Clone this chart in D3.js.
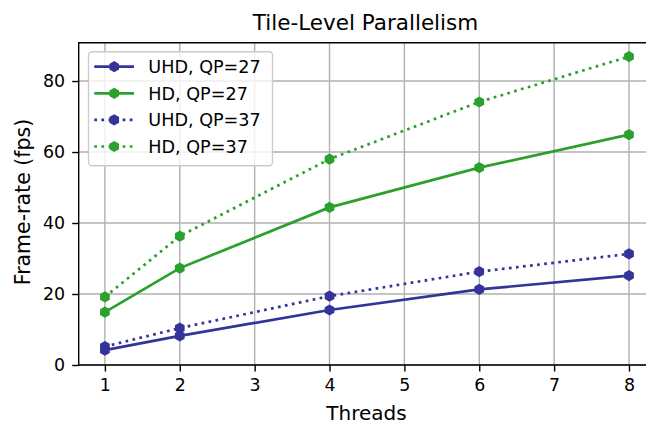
<!DOCTYPE html>
<html>
<head>
<meta charset="utf-8">
<script src="https://cdn.jsdelivr.net/npm/d3@7"></script>
<style>
  html, body { margin: 0; padding: 0; background: #fff; }
  svg { display: block; font-family: "DejaVu Sans", sans-serif; }
</style>
</head>
<body>
<svg id="chart" width="646" height="424"></svg>
<script>
const threads = [1, 2, 4, 6, 8];
const uhdQP27 = [4.2, 8.2, 15.5, 21.3, 25.2];
const hdQP27  = [14.9, 27.3, 44.4, 55.6, 64.9];
const uhdQP37 = [5.2, 10.4, 19.4, 26.3, 31.3];
const hdQP37  = [19.2, 36.3, 58.0, 74.1, 86.9];
const seriesNames = ["UHD, QP=27", "HD, QP=27", "UHD, QP=37", "HD, QP=37"];
const xTicks = [1, 2, 3, 4, 5, 6, 7, 8];
const yTicks = [0, 20, 40, 60, 80];

const BLUE = "#333399", GREEN = "#2ca02c";
const series = [
  { name: seriesNames[0], values: uhdQP27, color: BLUE, dotted: false },
  { name: seriesNames[1], values: hdQP27, color: GREEN, dotted: false },
  { name: seriesNames[2], values: uhdQP37, color: BLUE, dotted: true },
  { name: seriesNames[3], values: hdQP37, color: GREEN, dotted: true }
];

const svg = d3.select("#chart");
const L = 78.7, R = 655.2, T = 42.7, B = 365;
const x = d3.scaleLinear().domain([0.65, 8.35]).range([L, R]);
const y = d3.scaleLinear().domain([0, 90.8]).range([B, T]);

// grid
const grid = svg.append("g");
grid.selectAll("line.vx").data(xTicks).enter().append("line")
  .attr("x1", d => x(d)).attr("x2", d => x(d)).attr("y1", T).attr("y2", B)
  .attr("stroke", "#b0b0b0").attr("stroke-width", 1.4);
grid.selectAll("line.hy").data(yTicks).enter().append("line")
  .attr("y1", d => y(d)).attr("y2", d => y(d)).attr("x1", L).attr("x2", R)
  .attr("stroke", "#b0b0b0").attr("stroke-width", 1.4);

// axes
const xAxis = d3.axisBottom(x).tickValues(xTicks).tickSize(6.5).tickPadding(7).tickFormat(d3.format("d"));
const yAxis = d3.axisLeft(y).tickValues(yTicks).tickSize(6.5).tickPadding(7).tickFormat(d3.format("d"));
const gx = svg.append("g").attr("transform", `translate(0,${B})`).call(xAxis);
const gy = svg.append("g").attr("transform", `translate(${L},0)`).call(yAxis);
[gx, gy].forEach(g => {
  g.select(".domain").remove();
  g.selectAll(".tick line").attr("stroke", "#000").attr("stroke-width", 1.4);
  g.selectAll(".tick text").attr("fill", "#000").style("font-size", "17.4px")
    .style("font-family", "DejaVu Sans, sans-serif");
});

// spines
[[L, L, T, B], [L, R, B, B], [L, R, T, T], [R, R, T, B]].forEach(c => {
  svg.append("line").attr("x1", c[0]).attr("x2", c[1]).attr("y1", c[2]).attr("y2", c[3])
    .attr("stroke", "#000").attr("stroke-width", 1.4).attr("stroke-linecap", "square");
});

// hexagon marker path (pointy top)
function hexPath(r) {
  const pts = d3.range(6).map(i => {
    const a = -Math.PI / 2 + i * Math.PI / 3;
    return [r * Math.cos(a), r * Math.sin(a)];
  });
  return "M" + pts.map(p => p.join(",")).join("L") + "Z";
}
const HEX = hexPath(5.6);

const line = d3.line().x((d, i) => x(threads[i])).y(d => y(d));
const plot = svg.append("g");
series.forEach(s => {
  plot.append("path").datum(s.values).attr("d", line)
    .attr("fill", "none").attr("stroke", s.color).attr("stroke-width", 2.7)
    .attr("stroke-dasharray", s.dotted ? "2.7,4.4" : null);
  plot.selectAll(null).data(s.values).enter().append("path")
    .attr("d", HEX)
    .attr("transform", (d, i) => `translate(${x(threads[i])},${y(d)})`)
    .attr("fill", s.color);
});

// legend
const lg = svg.append("g");
lg.append("rect").attr("x", 88.5).attr("y", 51.7).attr("width", 184).attr("height", 114)
  .attr("rx", 3.5).attr("fill", "#fff").attr("fill-opacity", 0.8)
  .attr("stroke", "#cccccc").attr("stroke-width", 1.4);
series.forEach((s, i) => {
  const yy = 66.7 + i * 26.6;
  lg.append("line").attr("x1", 94.3).attr("x2", 134).attr("y1", yy).attr("y2", yy)
    .attr("stroke", s.color).attr("stroke-width", 2.7)
    .attr("stroke-dasharray", s.dotted ? "2.7,4.4" : null);
  lg.append("path").attr("d", HEX).attr("transform", `translate(114.2,${yy})`).attr("fill", s.color);
  lg.append("text").attr("x", 148.3).attr("y", yy).attr("dy", "0.36em")
    .style("font-size", "17.6px").attr("fill", "#000").text(s.name);
});

// labels
svg.append("text").attr("x", 365.5).attr("y", 30).attr("text-anchor", "middle")
  .style("font-size", "21.5px").attr("fill", "#000").text("Tile-Level Parallelism");
svg.append("text").attr("x", 366.5).attr("y", 419.5).attr("text-anchor", "middle")
  .style("font-size", "20px").attr("fill", "#000").text("Threads");
svg.append("text").attr("transform", `translate(30,202) rotate(-90)`)
  .attr("text-anchor", "middle")
  .style("font-size", "20.5px").attr("fill", "#000").text("Frame-rate (fps)");
</script>
</body>
</html>
